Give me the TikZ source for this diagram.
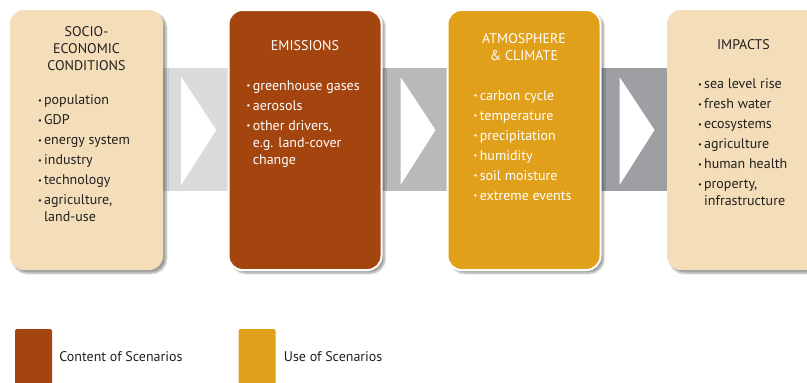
\documentclass[tikz,border=0pt]{standalone}
\usepackage{fontspec}
\setmainfont{PT Sans}
\usetikzlibrary{backgrounds, positioning, shadows.blur}

\definecolor{beige}{HTML}{F3DEB9}
\definecolor{rust}{HTML}{A4440F}
\definecolor{gold}{HTML}{E1A01A}
\definecolor{textgray}{HTML}{231F20}
\definecolor{bandA}{HTML}{DADBDD}
\definecolor{bandB}{HTML}{B8B9BB}
\definecolor{bandC}{HTML}{9E9FA2}

\newcommand{\itm}{\raisebox{0.25ex}{\scalebox{0.6}{\textbullet}}\,}
\newcommand{\cont}{\phantom{\itm}}

\tikzset{
  stage/.style={rounded corners=14pt, minimum width=153pt, minimum height=260pt, inner sep=0pt,
    blur shadow={shadow xshift=3pt, shadow yshift=-3pt, shadow blur steps=6, shadow opacity=40}},
  head/.style={align=center, inner sep=0pt, font=\fontsize{14}{17}\selectfont},
  items/.style={align=left, inner sep=0pt, anchor=north west, font=\fontsize{14}{17}\selectfont},
  key/.style={rounded corners=2pt, minimum width=37pt, minimum height=60pt, inner sep=0pt},
  keylabel/.style={inner sep=0pt, text=textgray, font=\fontsize{14}{17}\selectfont}
}

\begin{document}
\begin{tikzpicture}[x=1pt, y=-1pt]
    \useasboundingbox (0,0) rectangle (807,383);

    \node (socio) [stage, fill=beige] at (86.5,140) {};
    \node (emis) [stage, fill=rust, draw=white, line width=2pt] at (305,140) {};
    \node (atmo) [stage, fill=gold, draw=white, line width=2pt] at (524,140) {};
    \node (impacts) [stage, fill=beige] at (743.5,140) {};

    % Texts
    \node (socio-head) [head, text=textgray, below=17pt of socio.north] {SOCIO-\\ECONOMIC\\CONDITIONS};
    \node (socio-list) [items, text=textgray] at ([xshift=28pt, yshift=-85pt]socio.north west)
        {\itm population\\[3pt]\itm GDP\\[3pt]\itm energy system\\[3pt]\itm industry\\[3pt]\itm technology\\[3pt]\itm agriculture,\\\cont land-use};

    \node (emis-head) [head, text=white, below=31pt of emis.north] {EMISSIONS};
    \node (emis-list) [items, text=white] at ([xshift=19pt, yshift=-71pt]emis.north west)
        {\itm greenhouse gases\\[3pt]\itm aerosols\\[3pt]\itm other drivers,\\\cont e.g. land-cover\\\cont change};

    \node (atmo-head) [head, text=white, below=24pt of atmo.north] {ATMOSPHERE\\\& CLIMATE};
    \node (atmo-list) [items, text=white] at ([xshift=27pt, yshift=-81pt]atmo.north west)
        {\itm carbon cycle\\[3pt]\itm temperature\\[3pt]\itm precipitation\\[3pt]\itm humidity\\[3pt]\itm soil moisture\\[3pt]\itm extreme events};

    \node (impacts-head) [head, text=textgray, below=30pt of impacts.north] {IMPACTS};
    \node (impacts-list) [items, text=textgray] at ([xshift=31pt, yshift=-69pt]impacts.north west)
        {\itm sea level rise\\[3pt]\itm fresh water\\[3pt]\itm ecosystems\\[3pt]\itm agriculture\\[3pt]\itm human health\\[3pt]\itm property,\\\cont infrastructure};

    % Bands
    \begin{scope}[on background layer]
        \foreach \from/\to/\tone in {socio/emis/bandA, emis/atmo/bandB, atmo/impacts/bandC} {
            \fill [\tone] ([xshift=-10pt, yshift=72pt]\from.east) rectangle ([xshift=10pt, yshift=-51pt]\to.west);
            \fill [white] ([xshift=18pt, yshift=63pt]\from.east) -- ([xshift=53pt, yshift=10pt]\from.east)
                -- ([xshift=18pt, yshift=-45pt]\from.east) -- cycle;
        }
    \end{scope}

    % Legend
    \node (content-key) [key, fill=rust] at (33.5,359) {};
    \node (content-label) [keylabel, right=7pt of content-key, yshift=2pt] {Content of Scenarios};
    \node (use-key) [key, fill=gold] at (257,359) {};
    \node (use-label) [keylabel, right=8pt of use-key, yshift=2pt] {Use of Scenarios};

\end{tikzpicture}
\end{document}
